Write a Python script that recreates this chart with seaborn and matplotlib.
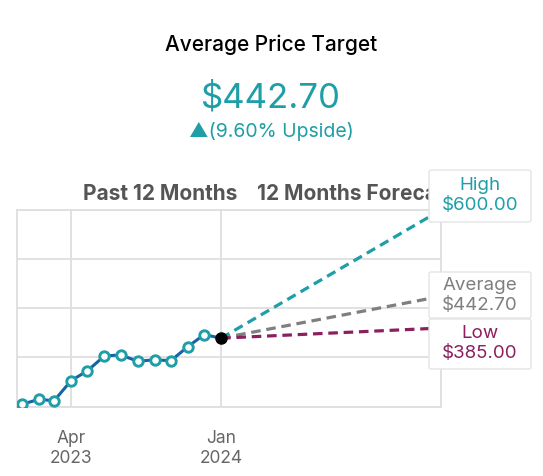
import pandas as pd
import matplotlib.pyplot as plt
from matplotlib.patches import FancyBboxPatch
import seaborn as sns

# dados
meses = pd.date_range("2023-01-01", "2023-12-01", freq="MS")
precos = [246, 255, 252.5, 289, 307, 334, 336, 324.5, 327, 325.5, 351, 373]
data_atual = pd.Timestamp("2024-01-01")
preco_atual = 366.5
data_fim = pd.Timestamp("2025-02-07")
alvos = ["High", "Average", "Low"]
valores_alvo = [600.00, 442.70, 385.00]
cores_alvo = ["#1e9ea6", "#7f7f7f", "#8c1f5f"]
upside = 9.60

df = pd.DataFrame({"data": list(meses) + [data_atual], "preco": precos + [preco_atual]})

sns.set_theme(style="white")
plt.rcParams["font.family"] = ["Inter", "DejaVu Sans"]

W, H = 543, 476
fig = plt.figure(figsize=(W / 100, H / 100), dpi=100)
ax = fig.add_axes([17 / W, 1 - 406.5 / H, (441 - 17) / W, (406.5 - 210) / H])

# linhas de previsão
for nome, v, c in zip(alvos, valores_alvo, cores_alvo):
    sns.lineplot(x=[data_atual, data_fim], y=[preco_atual, v], color=c, ax=ax,
                 linestyle=(0, (3, 1.8)), linewidth=2.3, zorder=2)

# histórico
sns.lineplot(data=df, x="data", y="preco", color="#1763a6", linewidth=2.2, ax=ax,
             zorder=3)
ax.plot(meses, precos, "o", ms=6.8, mfc="white", mec="#1e9ea6", mew=2.1, zorder=4)
ax.plot([data_atual], [preco_atual], "o", ms=8, color="black", zorder=5)

ax.set_xlim(pd.Timestamp("2022-12-23"), data_fim)
ylo = 242
ax.set_ylim(ylo, 600)
ax.set_yticks([ylo + i * (600 - ylo) / 4 for i in range(5)])
ax.set_yticklabels([])
ax.set_xticks([pd.Timestamp("2023-04-01"), data_atual])
ax.set_xticklabels(["Apr\n2023", "Jan\n2024"], color="#666666", fontsize=12.5)
ax.tick_params(axis="x", length=0, pad=17)
ax.tick_params(axis="y", length=0)
ax.grid(True, color="#dedede", linewidth=1.3)
for s in ax.spines.values():
    s.set_color("#dedede")
    s.set_linewidth(1.3)
ax.set_xlabel("")
ax.set_ylabel("")
ax.legend_ = None

# cabeçalho
fig.text(271 / W, 1 - 45 / H, "Average Price Target", ha="center", va="center",
         fontsize=15, color="black", fontweight="medium")
fig.text(271 / W, 1 - 98 / H, f"${valores_alvo[1]:.2f}", ha="center", va="center",
         fontsize=25, color="#1e9ea6")
fig.text(271 / W, 1 - 131 / H, f"▲({upside:.2f}% Upside)", ha="center", va="center",
         fontsize=14, color="#1e9ea6")

fig.text(160 / W, 1 - 194 / H, "Past 12 Months", ha="center", va="center",
         fontsize=15, fontweight="bold", color="#555555", zorder=0.5)
fig.text(257 / W, 1 - 194 / H, "12 Months Forecast", ha="left", va="center",
         fontsize=15, fontweight="bold", color="#555555", zorder=0.5)

# caixas de rótulo
caixas = [(170, 222), (272, 318), (319, 369)]
for (y0, y1), nome, v, c in zip(caixas, alvos, valores_alvo, cores_alvo):
    p = FancyBboxPatch((429 / W, 1 - y1 / H), (531 - 429) / W, (y1 - y0) / H,
                       boxstyle="round,pad=0,rounding_size=0.004",
                       transform=fig.transFigure, fc="white", ec="#e4e4e4", lw=1, zorder=1)
    fig.add_artist(p)
    ym = (y0 + y1) / 2
    fig.text(480 / W, 1 - (ym - 10) / H, nome, ha="center", va="center",
             fontsize=13.5, color=c, zorder=2)
    fig.text(480 / W, 1 - (ym + 10) / H, f"${v:.2f}", ha="center", va="center",
             fontsize=13.5, color=c, zorder=2)

fig.savefig("out.png", dpi=100)
